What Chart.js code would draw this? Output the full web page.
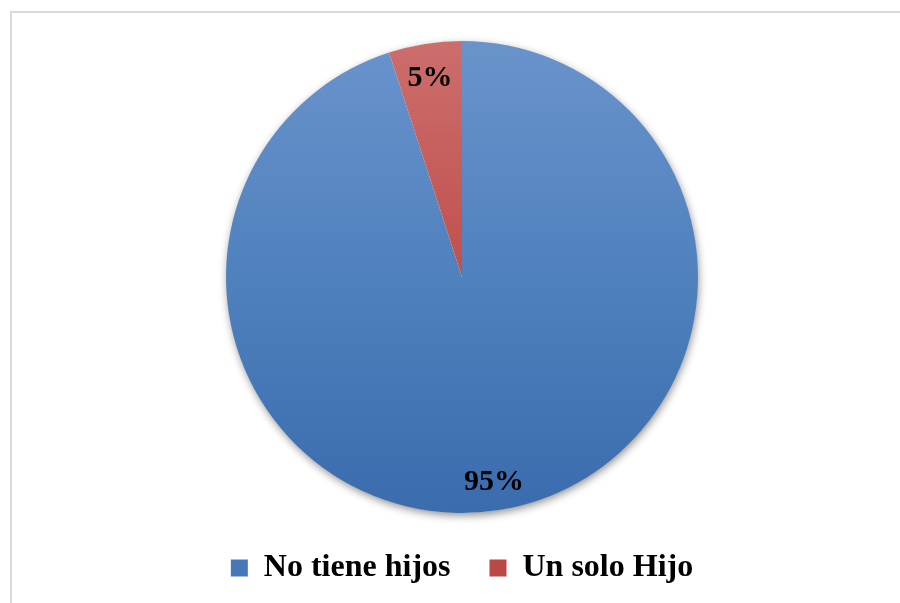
<!DOCTYPE html>
<html>
<head>
<meta charset="utf-8">
<script src="https://cdn.jsdelivr.net/npm/chart.js@4"></script>
<style>
html,body{margin:0;padding:0;background:#fff;overflow:hidden}
canvas{display:block}
</style>
</head>
<body>
<canvas id="c" width="900" height="603"></canvas>
<script>
const categories = ['No tiene hijos', 'Un solo Hijo'];
const percentages = [95, 5];
const topColors = ['#6a93cb', '#cc6e6c'];
const midColors = ['#4f81bd', '#c0504d'];
const bottomColors = ['#3a6cae', '#a93b39'];
const legendColors = ['#4677b8', '#bb4846'];

const serif = "'Liberation Serif', 'Times New Roman', serif";

const framePlugin = {
  id: 'frame',
  beforeDraw(chart) {
    const ctx = chart.ctx;
    ctx.save();
    ctx.fillStyle = '#d9d9d9';
    ctx.fillRect(10, 11, 890, 2);
    ctx.fillRect(10, 11, 2, 592);
    ctx.restore();
  }
};

const shadowPlugin = {
  id: 'pieShadow',
  beforeDatasetsDraw(chart) {
    const meta = chart.getDatasetMeta(0);
    if (!meta.data.length) return;
    const a = meta.data[0];
    const ctx = chart.ctx;
    ctx.save();
    ctx.shadowColor = 'rgba(0,0,0,0.45)';
    ctx.shadowBlur = 9;
    ctx.shadowOffsetX = 1;
    ctx.shadowOffsetY = 3;
    ctx.beginPath();
    ctx.arc(a.x, a.y, a.outerRadius - 0.5, 0, Math.PI * 2);
    ctx.fillStyle = '#ffffff';
    ctx.fill();
    ctx.restore();
  }
};

const labelPlugin = {
  id: 'sliceLabels',
  afterDatasetsDraw(chart) {
    const meta = chart.getDatasetMeta(0);
    const ctx = chart.ctx;
    ctx.save();
    ctx.font = 'bold 30px ' + serif;
    ctx.fillStyle = '#000';
    ctx.textAlign = 'center';
    ctx.textBaseline = 'middle';
    meta.data.forEach((arc, i) => {
      const mid = (arc.startAngle + arc.endAngle) / 2;
      const d = arc.outerRadius * 0.866;
      ctx.fillText(percentages[i] + '%', arc.x + Math.cos(mid) * d, arc.y + Math.sin(mid) * d + 3.5);
    });
    ctx.restore();
  }
};

new Chart(document.getElementById('c'), {
  type: 'pie',
  data: {
    labels: categories,
    datasets: [{
      data: percentages,
      borderWidth: 0,
      hoverOffset: 0,
      backgroundColor(ctx) {
        const i = ctx.dataIndex;
        const area = ctx.chart.chartArea;
        if (!area) return midColors[i];
        const g = ctx.chart.ctx.createLinearGradient(0, area.top, 0, area.bottom);
        g.addColorStop(0, topColors[i]);
        g.addColorStop(0.5, midColors[i]);
        g.addColorStop(1, bottomColors[i]);
        return g;
      }
    }]
  },
  options: {
    responsive: false,
    animation: false,
    devicePixelRatio: 1,
    layout: { padding: { top: 41, left: 24, right: 0, bottom: 9 } },
    plugins: {
      tooltip: { enabled: false },
      legend: {
        position: 'bottom',
        labels: {
          boxWidth: 17,
          boxHeight: 17,
          padding: 39,
          color: '#000',
          font: { family: serif, size: 32, weight: 'bold' },
          generateLabels(chart) {
            return chart.data.labels.map((l, i) => ({
              text: l,
              fillStyle: legendColors[i],
              strokeStyle: legendColors[i],
              lineWidth: 0,
              hidden: false,
              index: i
            }));
          }
        }
      }
    }
  },
  plugins: [framePlugin, shadowPlugin, labelPlugin]
});
</script>
</body>
</html>
